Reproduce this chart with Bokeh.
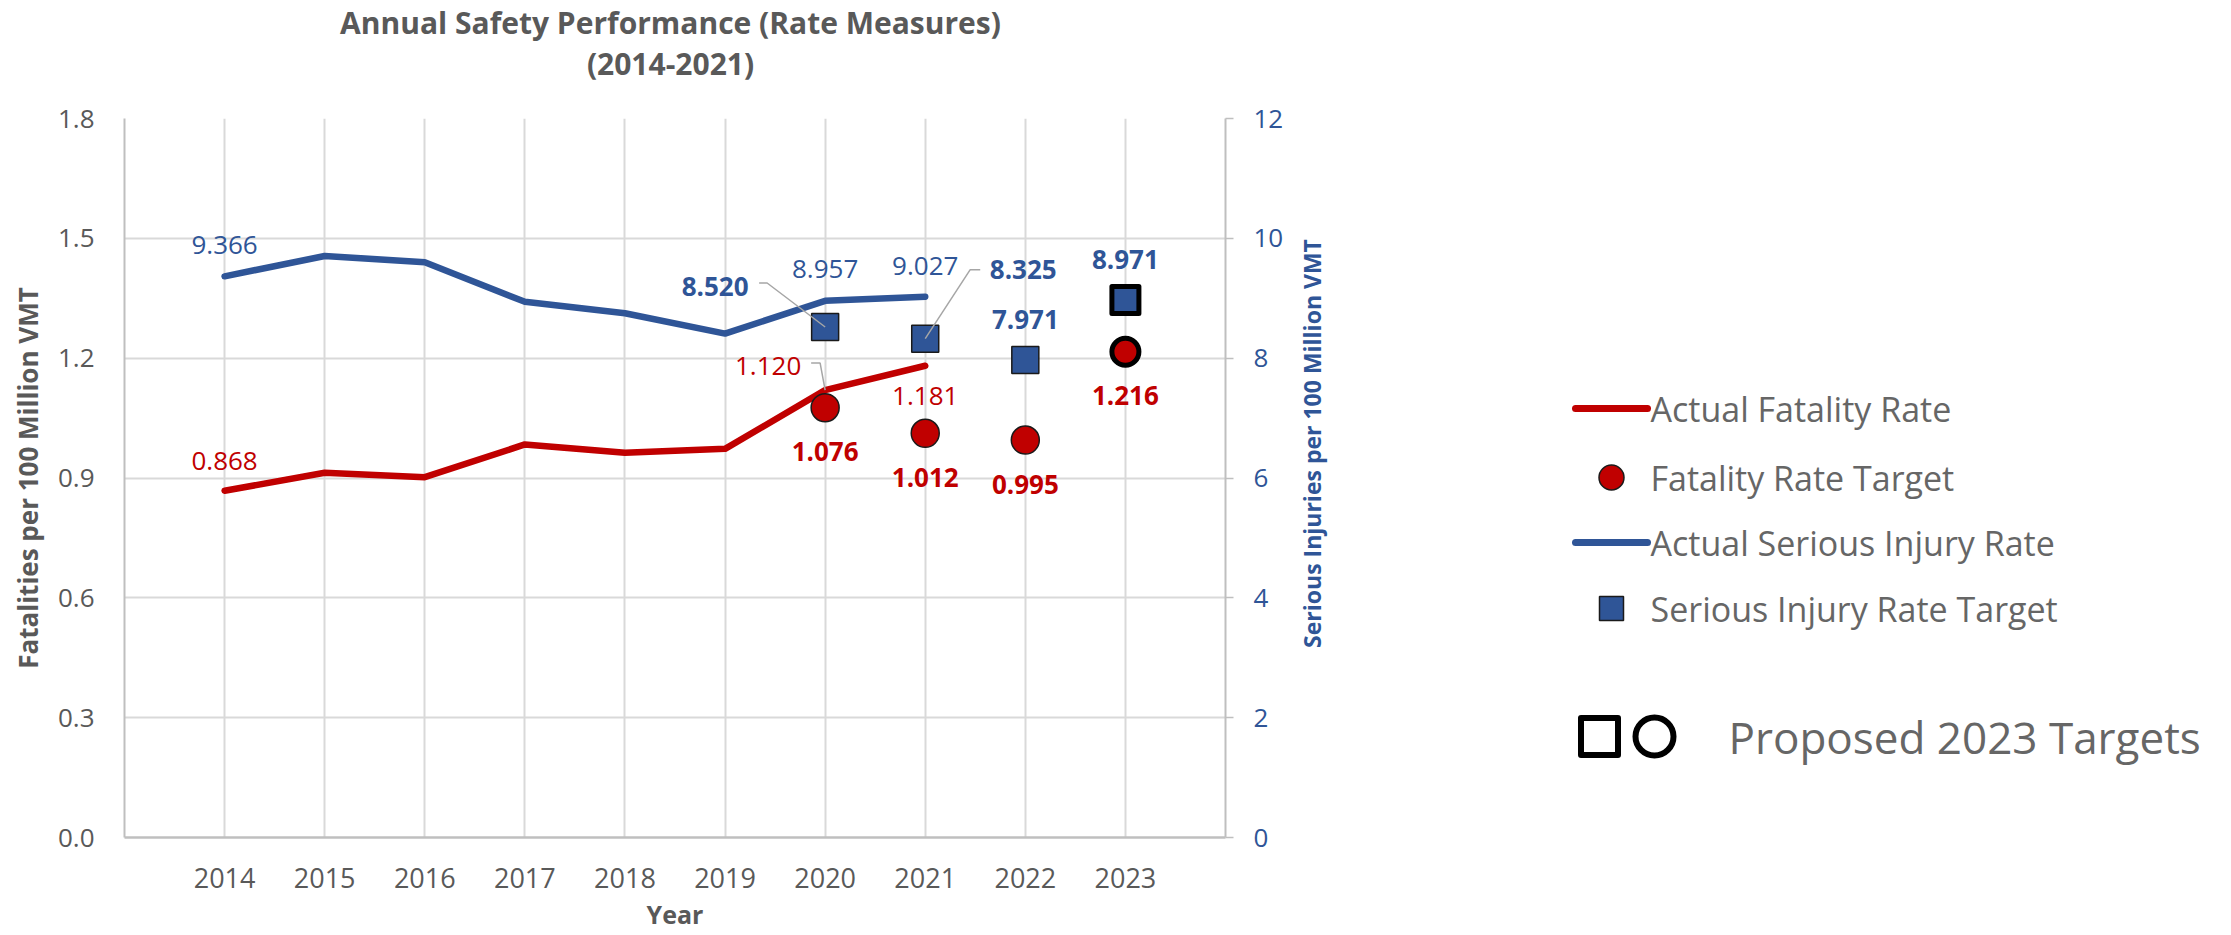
import math
from bokeh.plotting import figure
from bokeh.models import Range1d, LinearAxis, FixedTicker, PrintfTickFormatter
from bokeh.layouts import row, column
from bokeh.core.properties import value
from bokeh.embed import file_html
from bokeh.resources import INLINE

# ---------------- data ----------------
years = [2014, 2015, 2016, 2017, 2018, 2019, 2020, 2021]
fatality_rate = [0.868, 0.913, 0.902, 0.984, 0.963, 0.973, 1.120, 1.181]
serious_injury_rate = [9.366, 9.706, 9.600, 8.940, 8.750, 8.410, 8.957, 9.027]
target_years = [2020, 2021, 2022, 2023]
fatality_target = [1.076, 1.012, 0.995, 1.216]
serious_injury_target = [8.520, 8.325, 7.971, 8.971]
proposed_year = 2023
axis_years = [2014, 2015, 2016, 2017, 2018, 2019, 2020, 2021, 2022, 2023]
left_ticks = [0.0, 0.3, 0.6, 0.9, 1.2, 1.5, 1.8]
right_ticks = [0, 2, 4, 6, 8, 10, 12]

title_line1 = "Annual Safety Performance (Rate Measures)"
title_line2 = "(2014-2021)"
x_title = "Year"
left_title = "Fatalities per 100 Million VMT"
right_title = "Serious Injuries per 100 Million VMT"
legend_labels = ["Actual Fatality Rate", "Fatality Rate Target",
                 "Actual Serious Injury Rate", "Serious Injury Rate Target"]
proposed_label = "Proposed 2023 Targets"

# ---------------- style / layout (page pixels) ----------------
RED = "#C00000"
BLUE = "#2F5597"
TXT = "#595959"
LEG_TXT = "#666666"
GRID = "#D9D9D9"
AXIS = "#BFBFBF"
LEADER = "#A6A6A6"
FONT = "Open Sans"

TOTAL_W, TOTAL_H = 2230, 934
T_H = 92                      # height of the title strip
W_MAIN = 1290
W_LEG = TOTAL_W - W_MAIN
H = TOTAL_H - T_H
FR_LEFT, FR_RIGHT, FR_TOP, FR_BOT = 124, 1225, 118, 837
ML = FR_LEFT
MR = W_MAIN - FR_RIGHT
MT = FR_TOP - T_H
MB = TOTAL_H - FR_BOT
FRAME_W = FR_RIGHT - FR_LEFT
FRAME_H = FR_BOT - FR_TOP
X0, X1 = 2013, 2024
L_MAX, R_MAX = 1.8, 12
PX_X = FRAME_W / (X1 - X0)
PX_L = FRAME_H / L_MAX
PX_R = FRAME_H / R_MAX

# label offsets in screen px (dx, dy with dy downward)
fat_actual_off = {2014: (0, -30), 2020: (-57, -24), 2021: (0, 30)}
si_actual_off = {2014: (0, -31), 2020: (0, -32), 2021: (0, -31)}
fat_target_off = {2020: (0, 44), 2021: (0, 44), 2022: (0, 44), 2023: (0, 44)}
si_target_off = {2020: (-110, -41), 2021: (98, -69), 2022: (0, -40), 2023: (0, -40)}
# leader lines (screen px offsets from the point)
fat_actual_leader = {2020: [(0, 0), (-5, -27), (-14, -27)]}
si_target_leader = {2020: [(0, 0), (-58, -44), (-66, -44)],
                    2021: [(0, 0), (45, -69), (55, -69)]}

# ---------------- title strip ----------------
tf = figure(width=W_MAIN, height=T_H, x_range=Range1d(FR_LEFT, FR_RIGHT), y_range=Range1d(T_H, 0),
            output_backend="svg", toolbar_location=None, title=None,
            min_border_left=ML, min_border_right=MR, min_border_top=0, min_border_bottom=0,
            x_axis_type=None, y_axis_type=None)
tf.grid.visible = False
tf.outline_line_color = None
tf.text(x=[670, 670], y=[22, 63], text=[title_line1, title_line2], text_align="center",
        text_baseline="middle", text_font=value(FONT), text_font_size="30px",
        text_font_style="bold", text_color=TXT)

# ---------------- main chart ----------------
p = figure(width=W_MAIN, height=H, x_range=Range1d(X0, X1), y_range=Range1d(0, L_MAX),
           output_backend="svg", toolbar_location=None, title=None,
           min_border_left=ML, min_border_right=MR, min_border_top=MT, min_border_bottom=MB)
p.extra_y_ranges = {"si": Range1d(0, R_MAX)}
p.outline_line_color = None

# grids
p.xgrid.ticker = FixedTicker(ticks=list(range(X0, X1 + 1)))
p.ygrid.ticker = FixedTicker(ticks=left_ticks)
p.grid.grid_line_color = GRID
p.grid.grid_line_width = 2

# bottom axis
xa = p.xaxis[0]
xa.ticker = FixedTicker(ticks=axis_years)
xa.axis_label = x_title
xa.axis_label_text_font = FONT
xa.axis_label_text_font_size = "25px"
xa.axis_label_text_font_style = "bold"
xa.axis_label_text_color = TXT
xa.axis_label_standoff = 6
xa.major_label_text_font = FONT
xa.major_label_text_font_size = "27px"
xa.major_label_text_color = TXT
xa.major_label_standoff = 30
xa.major_tick_out = 0
xa.major_tick_in = 0
xa.minor_tick_line_color = None
xa.axis_line_color = AXIS
xa.axis_line_width = 2.5

# left axis
ya = p.yaxis[0]
ya.ticker = FixedTicker(ticks=left_ticks)
ya.formatter = PrintfTickFormatter(format="%.1f")
ya.axis_label = left_title
ya.axis_label_text_font = FONT
ya.axis_label_text_font_size = "26px"
ya.axis_label_text_font_style = "bold"
ya.axis_label_text_color = TXT
ya.axis_label_standoff = 9
ya.major_label_text_font = FONT
ya.major_label_text_font_size = "26px"
ya.major_label_text_color = TXT
ya.major_label_standoff = 30
ya.major_tick_out = 0
ya.major_tick_in = 0
ya.minor_tick_line_color = None
ya.axis_line_color = AXIS
ya.axis_line_width = 2

# right axis (its title is drawn in the side panel so it can sit where the original has it)
ra = LinearAxis(y_range_name="si", ticker=FixedTicker(ticks=right_ticks))
ra.major_label_text_font = FONT
ra.major_label_text_font_size = "26px"
ra.major_label_text_color = BLUE
ra.major_label_standoff = 20
ra.major_tick_out = 8
ra.major_tick_in = 0
ra.major_tick_line_color = AXIS
ra.major_tick_line_width = 1.5
ra.minor_tick_line_color = None
ra.axis_line_color = AXIS
ra.axis_line_width = 2
p.add_layout(ra, "right")

# actual lines
p.line(years, serious_injury_rate, line_color=BLUE, line_width=6.5,
       line_join="round", line_cap="round", y_range_name="si")
p.line(years, fatality_rate, line_color=RED, line_width=6.5,
       line_join="round", line_cap="round")

# targets
reg = [i for i, y in enumerate(target_years) if y != proposed_year]
prop = [i for i, y in enumerate(target_years) if y == proposed_year]
p.scatter([target_years[i] for i in reg], [serious_injury_target[i] for i in reg],
          marker="square", size=27, fill_color=BLUE, line_color="#1A1A1A", line_width=1.5,
          y_range_name="si")
p.scatter([target_years[i] for i in prop], [serious_injury_target[i] for i in prop],
          marker="square", size=27, fill_color=BLUE, line_color="black", line_width=5,
          line_join="round", y_range_name="si")
p.scatter([target_years[i] for i in reg], [fatality_target[i] for i in reg],
          marker="circle", size=28, fill_color=RED, line_color="#1A1A1A", line_width=1.5)
p.scatter([target_years[i] for i in prop], [fatality_target[i] for i in prop],
          marker="circle", size=27, fill_color=RED, line_color="black", line_width=5)


# leader lines
def leaders(xs, ys, spec, px_y, yrn):
    for x, y in zip(xs, ys):
        if x in spec:
            lx = [x + dx / PX_X for dx, dy in spec[x]]
            ly = [y - dy / px_y for dx, dy in spec[x]]
            p.line(lx, ly, line_color=LEADER, line_width=1.5, y_range_name=yrn)


leaders(years, fatality_rate, fat_actual_leader, PX_L, "default")
leaders(target_years, serious_injury_target, si_target_leader, PX_R, "si")


# data labels
def labels(xs, ys, offs, color, style, yrn):
    sel = [(x, y) for x, y in zip(xs, ys) if x in offs]
    p.text(x=[s[0] for s in sel], y=[s[1] for s in sel],
           text=["%.3f" % s[1] for s in sel],
           x_offset=[offs[s[0]][0] for s in sel], y_offset=[offs[s[0]][1] for s in sel],
           text_align="center", text_baseline="middle", text_font=value(FONT),
           text_font_size="26px", text_font_style=style, text_color=color,
           y_range_name=yrn)


labels(years, fatality_rate, fat_actual_off, RED, "normal", "default")
labels(years, serious_injury_rate, si_actual_off, BLUE, "normal", "si")
labels(target_years, fatality_target, fat_target_off, RED, "bold", "default")
labels(target_years, serious_injury_target, si_target_off, BLUE, "bold", "si")

# ---------------- side panel: right-axis title + legend (x, y in page px) ----------------
lg = figure(width=W_LEG, height=H, x_range=Range1d(W_MAIN, TOTAL_W), y_range=Range1d(FR_BOT, FR_TOP),
            output_backend="svg", toolbar_location=None, title=None,
            min_border_left=0, min_border_right=0, min_border_top=MT, min_border_bottom=MB,
            x_axis_type=None, y_axis_type=None)
lg.grid.visible = False
lg.outline_line_color = None

lg.text(x=[1311], y=[443], text=[right_title], angle=math.pi / 2, text_align="center",
        text_baseline="middle", text_font=value(FONT), text_font_size="23px",
        text_font_style="bold", text_color=BLUE)

SW_X0, SW_X1, MK_X, TX_X = 1575, 1647, 1611, 1650
ROW_Y = [408, 477, 542, 608]
lg.line([SW_X0, SW_X1], [ROW_Y[0]] * 2, line_color=RED, line_width=7, line_cap="round")
lg.scatter([MK_X], [ROW_Y[1]], marker="circle", size=25, fill_color=RED,
           line_color="#1A1A1A", line_width=1.5)
lg.line([SW_X0, SW_X1], [ROW_Y[2]] * 2, line_color=BLUE, line_width=7, line_cap="round")
lg.scatter([MK_X], [ROW_Y[3]], marker="square", size=24, fill_color=BLUE,
           line_color="#1A1A1A", line_width=1.5)
lg.text(x=[TX_X] * 4, y=ROW_Y, text=legend_labels, text_align="left", text_baseline="middle",
        text_font=value(FONT), text_font_size="34px", text_color=LEG_TXT)

PR_Y = 736
lg.scatter([1599], [PR_Y], marker="square", size=37, fill_color=None, line_color="black",
           line_width=6, line_join="round")
lg.scatter([1654], [PR_Y], marker="circle", size=38, fill_color=None, line_color="black",
           line_width=6)
lg.text(x=[1728], y=[PR_Y], text=[proposed_label], text_align="left", text_baseline="middle",
        text_font=value(FONT), text_font_size="44px", text_color=LEG_TXT)

layout = column(tf, row(p, lg))
open("out.html", "w").write(file_html(layout, INLINE))
